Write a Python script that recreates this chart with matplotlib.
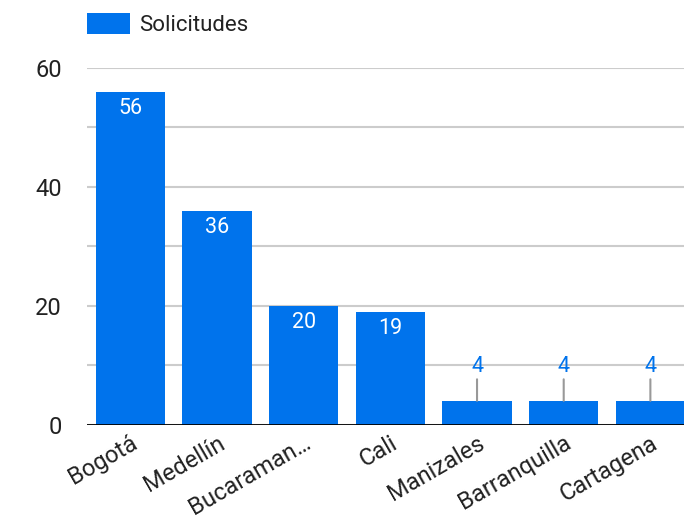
import matplotlib.pyplot as plt

ciudades = ['Bogotá', 'Medellín', 'Bucaraman…', 'Cali', 'Manizales', 'Barranquilla', 'Cartagena']
solicitudes = [56, 36, 20, 19, 4, 4, 4]
yticks = [0, 20, 40, 60]

azul = '#0073ec'
plt.rcParams['font.family'] = ['Roboto', 'DejaVu Sans']

fig = plt.figure(figsize=(6.84, 5.21), dpi=100)
ax = fig.add_axes([0.1272, 0.1852, 0.887, 0.6843])

x = range(len(ciudades))
bars = ax.bar(x, solicitudes, width=0.8, color=azul, label='Solicitudes', zorder=3)

ax.set_xlim(-0.5, len(ciudades) - 0.5)
ax.set_ylim(0, 60)
ax.set_yticks(yticks)
ax.set_yticks([10, 30, 50], minor=True)
ax.grid(axis='y', which='both', color='#cccccc', linewidth=1.5, zorder=0)
ax.axhline(0, color='black', linewidth=2, zorder=4)

for s in ax.spines.values():
    s.set_visible(False)
ax.tick_params(axis='both', which='both', length=0)
ax.tick_params(axis='y', labelsize=17, pad=18, colors='#222222')
ax.set_xticks(list(x))
ax.set_xticklabels(ciudades, rotation=30, ha='right', rotation_mode='anchor',
                   fontsize=17, color='#222222')
ax.tick_params(axis='x', pad=5)

# etiquetas de valor: dentro si la barra es alta, fuera con linea guia si es baja
for b, v in zip(bars, solicitudes):
    cx = b.get_x() + b.get_width() / 2
    if v > 10:
        ax.annotate(str(v), (cx, v), xytext=(0, -12), textcoords='offset points',
                    ha='center', va='center', color='white', fontsize=15.5, zorder=5)
    else:
        ax.annotate(str(v), (cx, v), xytext=(0, 25), textcoords='offset points',
                    ha='center', va='center', color=azul, fontsize=15.5, zorder=5,
                    arrowprops=dict(arrowstyle='-', color='#999999', lw=1.5,
                                    shrinkA=0, shrinkB=0))

leg = ax.legend(loc='lower left', bbox_to_anchor=(87 / 684, 1 - 36 / 521),
                bbox_transform=fig.transFigure, frameon=False, fontsize=16,
                handlelength=1.95, handleheight=1.05, handletextpad=0.4,
                borderpad=0, borderaxespad=0)
for t in leg.get_texts():
    t.set_color('#222222')

plt.savefig('out.png', dpi=100)
